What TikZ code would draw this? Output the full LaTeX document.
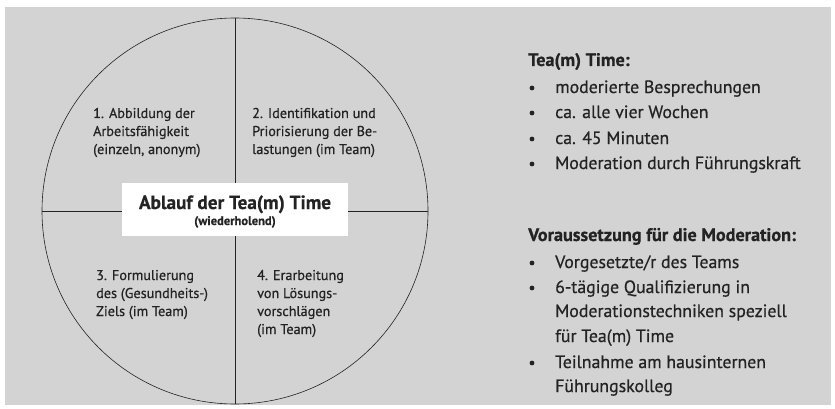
\documentclass[tikz,border=0pt]{standalone}
\usepackage{fontspec}
\setmainfont{PT Sans}[FakeBold=0.6]
\definecolor{panel}{RGB}{211,211,211}
\definecolor{ink}{RGB}{35,35,35}
\tikzset{
    quad/.style={anchor=base west, inner sep=0pt, text=ink, font=\fontsize{14.2}{18}\selectfont},
    item/.style={anchor=base west, inner sep=0pt, text=ink, font=\fontsize{17.8}{25}\selectfont},
    head/.style={item, font=\fontsize{18.2}{25}\selectfont\bfseries},
    dot/.style={fill=ink}
}
\begin{document}
\begin{tikzpicture}[x=1pt,y=-1pt]
    \useasboundingbox (0,0) rectangle (835,409);
    \fill[panel] (5,7) rectangle (831,405);

    %Draw circle and quadrants
    \draw[ink, semithick] (235,211) circle (193);
    \coordinate (top) at (235,18);
    \coordinate (bottom) at (235,404);
    \coordinate (left) at (42,211);
    \coordinate (right) at (428,211);
    \draw[ink] (top) -- (bottom);
    \draw[ink] (left) -- (right);

    %Center label
    \node[fill=white, minimum width=226pt, minimum height=53pt, inner sep=0pt] (center) at (235,209.5) {};
    \node[anchor=base, inner sep=0pt, text=ink, font=\fontsize{19.2}{20}\selectfont\bfseries] (title) at (235,209) {Ablauf der Tea(m) Time};
    \node[anchor=base, inner sep=0pt, text=ink, font=\fontsize{12.5}{14}\selectfont\bfseries] (sub) at (235,225) {(wiederholend)};

    %Quadrant 1
    \node[quad] (q1a) at (93,118) {1. Abbildung der};
    \node[quad] (q1b) at (93,136) {Arbeitsfähigkeit};
    \node[quad] (q1c) at (93,154) {(einzeln, anonym)};
    %Quadrant 2
    \node[quad] (q2a) at (252,118) {2. Identifikation und};
    \node[quad] (q2b) at (252,136) {Priorisierung der Be-};
    \node[quad] (q2c) at (252,154) {lastungen (im Team)};
    %Quadrant 3
    \node[quad] (q3a) at (96,280) {3. Formulierung};
    \node[quad] (q3b) at (96,298) {des (Gesundheits-)};
    \node[quad] (q3c) at (96,316) {Ziels (im Team)};
    %Quadrant 4
    \node[quad] (q4a) at (257,280) {4. Erarbeitung};
    \node[quad] (q4b) at (257,298) {von Lösungs-};
    \node[quad] (q4c) at (257,316) {vorschlägen};
    \node[quad] (q4d) at (257,334) {(im Team)};

    %Tea(m) Time list
    \node[head] (time) at (528,66) {Tea(m) Time:};
    \node[item] (t1) at (555,93) {moderierte Besprechungen};
    \node[item] (t2) at (555,118) {ca. alle vier Wochen};
    \node[item] (t3) at (555,144) {ca. 45 Minuten};
    \node[item] (t4) at (555,169) {Moderation durch Führungskraft};
    \foreach \y in {93,118,144,169}
        \fill[dot] (532,\y-5) circle (2.4);

    %Moderation list
    \node[head] (mod) at (528,241) {Voraussetzung für die Moderation:};
    \node[item] (m1) at (555,268) {Vorgesetzte/r des Teams};
    \node[item] (m2) at (555,293) {6-tägige Qualifizierung in};
    \node[item] (m2b) at (555,317) {Moderationstechniken speziell};
    \node[item] (m2c) at (555,342) {für Tea(m) Time};
    \node[item] (m3) at (555,368) {Teilnahme am hausinternen};
    \node[item] (m3b) at (555,392) {Führungskolleg};
    \foreach \y in {268,293,368}
        \fill[dot] (532,\y-5) circle (2.4);

\end{tikzpicture}
\end{document}
